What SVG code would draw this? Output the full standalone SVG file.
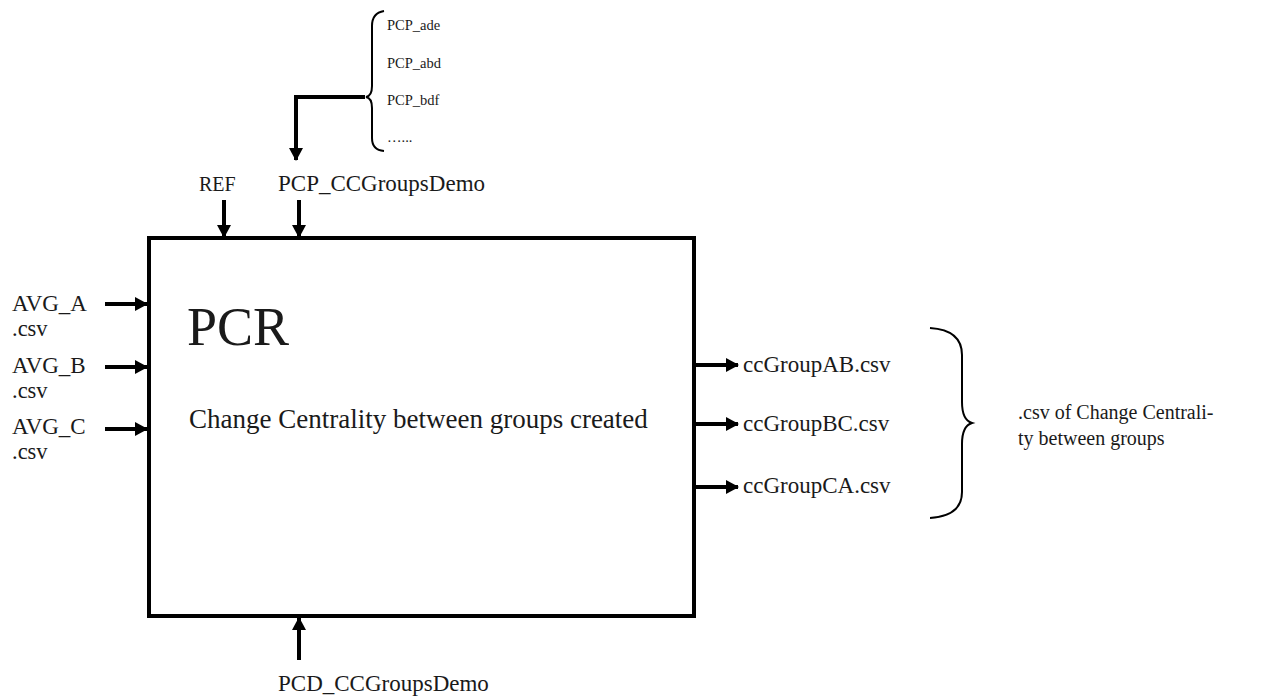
<svg xmlns="http://www.w3.org/2000/svg" width="1262" height="697" viewBox="0 0 1262 697">
<style>
text{font-family:"Liberation Serif","Times New Roman",serif;fill:#1a1a1a}
.lbl{font-size:23px}
.csv{font-size:22.5px}
.sm{font-size:14.5px}
.arr{stroke:#000;stroke-width:4;fill:none}
.brace{stroke:#000;stroke-width:2;fill:none}
</style>
<defs>
<marker id="ah" markerUnits="userSpaceOnUse" markerWidth="14" markerHeight="14" refX="12" refY="7" orient="auto">
<path d="M0,0 L13,7 L0,14 Z" fill="#000"/>
</marker>
</defs>
<rect width="1262" height="697" fill="#fff"/>
<g id="pcr">
<rect x="149" y="238" width="545" height="378" fill="#fff" stroke="#000" stroke-width="4"/>
<text x="187" y="345" font-size="54">PCR</text>
<text x="189" y="428" font-size="27">Change Centrality between groups created</text>
</g>
<g id="inputs">
<text class="lbl" x="12" y="311" font-size="23.5">AVG_A</text>
<text class="csv" x="12" y="336">.csv</text>
<text class="lbl" x="12" y="373">AVG_B</text>
<text class="csv" x="12" y="398">.csv</text>
<text class="lbl" x="12" y="434">AVG_C</text>
<text class="csv" x="12" y="459">.csv</text>
</g>
<g id="controls">
<text x="199" y="191" font-size="20">REF</text>
<text class="lbl" x="278" y="191">PCP_CCGroupsDemo</text>
</g>
<g id="pcp-list">
<text class="sm" x="387" y="30">PCP_ade</text>
<text class="sm" x="387" y="68">PCP_abd</text>
<text class="sm" x="387" y="105">PCP_bdf</text>
<text class="sm" x="387" y="142">…...</text>
<path class="brace" d="M384,11 Q372,13 372,26 L372,86 Q372,96 366,97 Q372,98 372,108 L372,138 Q372,150 384,151"/>
</g>
<g id="mechanism">
<text class="lbl" x="278" y="691">PCD_CCGroupsDemo</text>
</g>
<g id="outputs">
<text class="lbl" x="743" y="372">ccGroupAB.csv</text>
<text class="lbl" x="743" y="431">ccGroupBC.csv</text>
<text class="lbl" x="743" y="493">ccGroupCA.csv</text>
<path class="brace" d="M930,328 Q962,330 962,355 L962,402 Q962,420 972,423 Q962,426 962,444 L962,492 Q962,516 930,518"/>
<text x="1018" y="419" font-size="20">.csv of Change Centrali-</text>
<text x="1018" y="445" font-size="20">ty between groups</text>
</g>
<g id="connectors">
<line class="arr" x1="105" y1="304" x2="147" y2="304" marker-end="url(#ah)"/>
<line class="arr" x1="105" y1="367" x2="147" y2="367" marker-end="url(#ah)"/>
<line class="arr" x1="105" y1="429" x2="147" y2="429" marker-end="url(#ah)"/>
<line class="arr" x1="224" y1="200" x2="224" y2="237" marker-end="url(#ah)"/>
<line class="arr" x1="299" y1="200" x2="299" y2="237" marker-end="url(#ah)"/>
<polyline class="arr" points="365,97 296,97 296,160" marker-end="url(#ah)"/>
<line class="arr" x1="299" y1="660" x2="299" y2="618" marker-end="url(#ah)"/>
<line class="arr" x1="696" y1="365" x2="738" y2="365" marker-end="url(#ah)"/>
<line class="arr" x1="696" y1="424" x2="738" y2="424" marker-end="url(#ah)"/>
<line class="arr" x1="696" y1="487" x2="738" y2="487" marker-end="url(#ah)"/>
</g>
</svg>
